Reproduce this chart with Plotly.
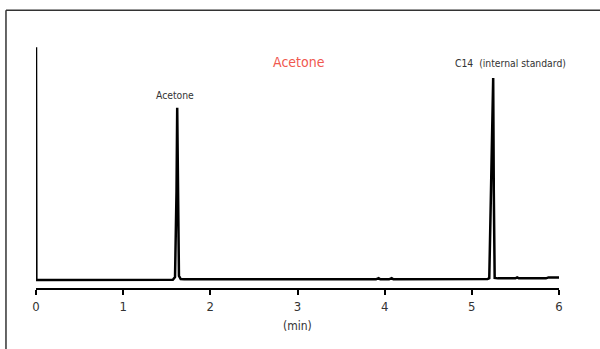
import plotly.graph_objects as go

# Chromatogram trace (time in min, detector response in arbitrary units)
time_min = [0.0, 0.004, 0.05, 1.0, 1.57, 1.595, 1.612, 1.62, 1.628, 1.64, 1.66, 1.7,
            2.5, 3.9, 3.93, 3.95, 4.05, 4.08, 4.1, 4.5, 4.98, 5.0, 5.02, 5.18, 5.2,
            5.238, 5.245, 5.252, 5.262, 5.3, 5.5, 5.52, 5.54, 5.85, 5.88, 6.0]
signal = [100.0, 3.3, 3.3, 3.3, 3.4, 4.5, 40.0, 74.8, 40.0, 5.0, 3.7, 3.6,
          3.6, 3.6, 4.1, 3.6, 3.6, 4.1, 3.6, 3.6, 3.6, 3.9, 3.6, 3.7, 4.1,
          87.2, 87.2, 40.0, 4.2, 4.0, 4.0, 4.4, 4.0, 4.0, 4.4, 4.4]

tick_vals = [0, 1, 2, 3, 4, 5, 6]
tick_text = ["0", "1", "2", "3", "4", "5", "6"]

peak_labels = ["Acetone", "C14  (internal standard)"]
peak_label_x = [1.595, 5.44]
peak_label_y = [0.798, 0.93]

FONT = "Liberation Sans Narrow, DejaVu Sans Condensed, Arial Narrow, sans-serif"

fig = go.Figure()
fig.add_trace(go.Scatter(x=time_min, y=signal, mode="lines",
                         line=dict(color="black", width=2.5),
                         hoverinfo="skip", showlegend=False))

for txt, px, py in zip(peak_labels, peak_label_x, peak_label_y):
    fig.add_annotation(x=px, y=py, xref="x", yref="paper", text=txt,
                       showarrow=False, font=dict(family=FONT, size=10.3, color="#333333"),
                       xanchor="center", yanchor="middle")

fig.add_annotation(x=0.5, y=-0.155, xref="paper", yref="paper", text="(min)",
                   showarrow=False, font=dict(family=FONT, size=12, color="#333333"),
                   xanchor="center", yanchor="middle")

# outer frame (only top and left edges visible in the crop)
fig.add_shape(type="line", xref="paper", yref="paper", x0=-0.0574, x1=1.3,
              y0=1.148, y1=1.148, line=dict(color="#333333", width=1.5))
fig.add_shape(type="line", xref="paper", yref="paper", x0=-0.0574, x1=-0.0574,
              y0=1.148, y1=-0.4, line=dict(color="#333333", width=1.5))

fig.update_layout(
    width=600, height=349,
    margin=dict(l=36, r=41, t=46, b=61),
    paper_bgcolor="white", plot_bgcolor="white",
    title=dict(text="Acetone", x=0.498, xanchor="center", y=1 - 62 / 349, yanchor="middle",
               font=dict(family=FONT, size=14, color="#f0584f")),
    xaxis=dict(range=[0, 6], tickvals=tick_vals, ticktext=tick_text,
               showgrid=False, zeroline=False, showline=True, linecolor="black", linewidth=2,
               ticks="outside", ticklen=5, tickwidth=2, tickcolor="black",
               tickfont=dict(family=FONT, size=13, color="#333333")),
    yaxis=dict(range=[0, 100.5], visible=False, showgrid=False, zeroline=False),
)

fig.write_html("out.html")
